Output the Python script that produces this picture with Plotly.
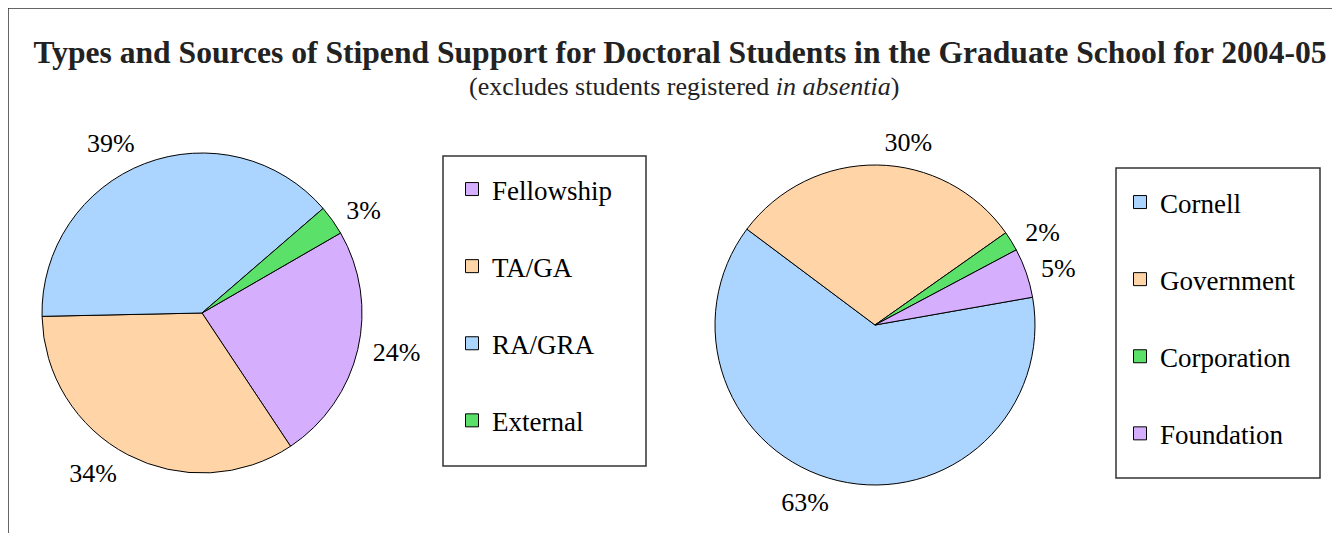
import plotly.graph_objects as go

# Data
types_labels = ["Fellowship", "TA/GA", "RA/GRA", "External"]
types_values = [24, 34, 39, 3]
types_colors = ["#D6AEFE", "#FFD5A8", "#ABD5FF", "#5BE06A"]

source_labels = ["Cornell", "Government", "Corporation", "Foundation"]
source_values = [63, 30, 2, 5]
source_colors = ["#ABD5FF", "#FFD5A8", "#5BE06A", "#D6AEFE"]

title_text = "Types and Sources of Stipend Support for Doctoral Students in the Graduate School for 2004-05"
subtitle_text = "(excludes students registered <i>in absentia</i>)"

FONT = "Liberation Serif"
W, H = 1340, 533
OFF = 8  # page body margin


def px_x(v):
    return (v - OFF) / W


def px_y(v):
    return 1 - (v - OFF) / H


def dom(cx, cy, r):
    return dict(x=[px_x(cx - r), px_x(cx + r)], y=[px_y(cy + r), px_y(cy - r)])


fig = go.Figure()

pies = [
    (types_labels, types_values, types_colors, 60, (202, 313)),
    (source_labels, source_values, source_colors, 80, (875, 325)),
]
R = 160
for labels, values, colors, rot, (cx, cy) in pies:
    # visible pie
    fig.add_trace(go.Pie(
        labels=labels, values=values, sort=False, direction="clockwise",
        rotation=rot, textinfo="none",
        marker=dict(colors=colors, line=dict(color="black", width=1)),
        domain=dom(cx, cy, R), showlegend=False, hoverinfo="label+percent",
    ))
    # transparent companion pie carrying the percentage labels a bit further out
    fig.add_trace(go.Pie(
        labels=labels, values=values, sort=False, direction="clockwise",
        rotation=rot, textinfo="percent", textposition="outside",
        textfont=dict(family=FONT, size=26, color="black"),
        marker=dict(colors=["rgba(0,0,0,0)"] * len(labels), line=dict(width=0)),
        domain=dom(cx, cy, R + 8), showlegend=False, hoverinfo="skip",
    ))

# legend entries (one group per category so spacing can be set)
for lab, col in zip(types_labels, types_colors):
    fig.add_trace(go.Scatter(
        x=[None], y=[None], mode="markers", name=lab, legend="legend",
        legendgroup="a_" + lab,
        marker=dict(symbol="square", size=13, color=col, line=dict(color="black", width=1)),
    ))
for lab, col in zip(source_labels, source_colors):
    fig.add_trace(go.Scatter(
        x=[None], y=[None], mode="markers", name=lab, legend="legend2",
        legendgroup="b_" + lab,
        marker=dict(symbol="square", size=13, color=col, line=dict(color="black", width=1)),
    ))

legend_common = dict(
    xanchor="left", yanchor="top", bgcolor="rgba(0,0,0,0)", borderwidth=0,
    font=dict(family=FONT, size=27, color="black"),
    traceorder="grouped", tracegroupgap=39, itemclick=False, itemdoubleclick=False,
)

box_line = dict(color="#333333", width=1.5)
fig.update_layout(
    width=W, height=H,
    margin=dict(l=0, r=0, t=0, b=0),
    paper_bgcolor="white", plot_bgcolor="white",
    xaxis=dict(visible=False), yaxis=dict(visible=False),
    font=dict(family=FONT, color="black"),
    title=dict(text="<b>" + title_text + "</b>", x=px_x(680), y=px_y(52),
               xanchor="center", yanchor="middle",
               font=dict(family=FONT, size=31.6, color="#222222")),
    legend=dict(x=px_x(452), y=px_y(165), **legend_common),
    legend2=dict(x=px_x(1120), y=px_y(178), **legend_common),
    annotations=[dict(text=subtitle_text, x=px_x(684), y=px_y(87), xref="paper", yref="paper",
                      xanchor="center", yanchor="middle", showarrow=False,
                      font=dict(family=FONT, size=26, color="#222222"))],
    shapes=[
        dict(type="rect", xref="paper", yref="paper", layer="below",
             x0=px_x(8), y0=-0.05, x1=1.05, y1=px_y(8), line=box_line),
        dict(type="rect", xref="paper", yref="paper", layer="below",
             x0=px_x(443), y0=px_y(466), x1=px_x(646), y1=px_y(156), line=box_line,
             fillcolor="white"),
        dict(type="rect", xref="paper", yref="paper", layer="below",
             x0=px_x(1116), y0=px_y(478), x1=px_x(1320), y1=px_y(168), line=box_line,
             fillcolor="white"),
    ],
    showlegend=True,
)

fig.write_html("out.html")
